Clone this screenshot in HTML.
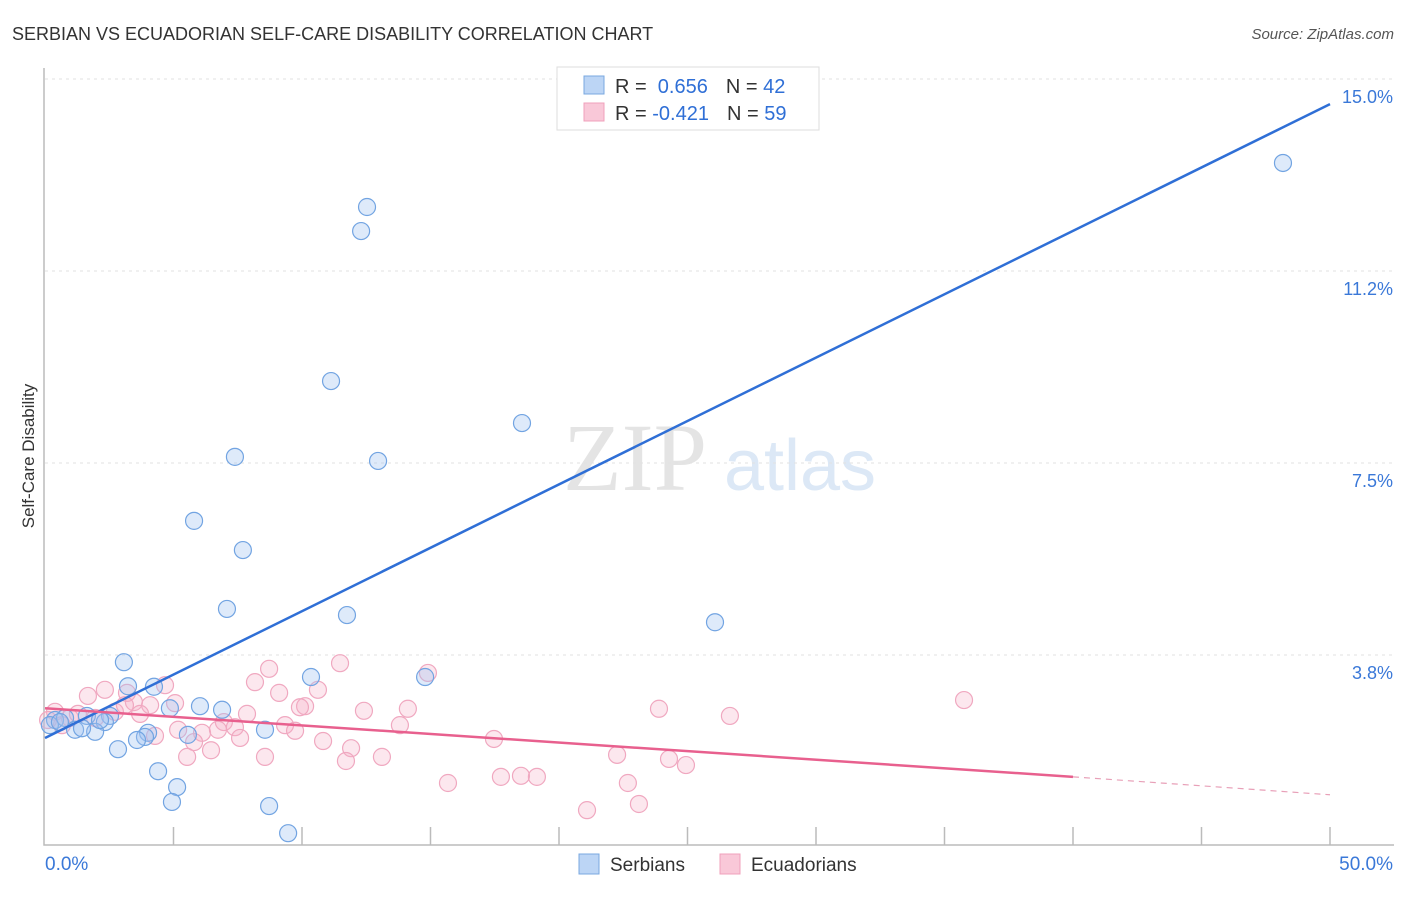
<!DOCTYPE html>
<html><head><meta charset="utf-8"><style>
body{margin:0;background:#fff;font-family:"Liberation Sans",sans-serif}
</style></head><body>
<svg id="chart" width="1406" height="892" xmlns="http://www.w3.org/2000/svg" font-family="Liberation Sans, sans-serif">
<text x="12" y="40" font-size="18" fill="#333">SERBIAN VS ECUADORIAN SELF-CARE DISABILITY CORRELATION CHART</text>
<text x="1394" y="39" font-size="15" fill="#555" font-style="italic" text-anchor="end">Source: ZipAtlas.com</text>
<text transform="translate(34,456) rotate(-90)" font-size="17" fill="#333" text-anchor="middle">Self-Care Disability</text>
<g><text x="635" y="490" font-size="96" fill="#e4e4e4" font-family="Liberation Serif, serif" text-anchor="middle">ZIP</text><text x="800" y="490" font-size="72" fill="#dce8f6" text-anchor="middle">atlas</text></g>
<g id="grid"></g><g id="axes"></g><g id="pts"></g><g id="lines"></g>
<g>
<rect x="557" y="67" width="262" height="63" fill="#fff" stroke="#ddd"/>
<rect x="584" y="76" width="20" height="18" fill="#bcd5f5" stroke="#7aa8e0"/>
<rect x="584" y="103" width="20" height="18" fill="#f9c8d8" stroke="#f0a0bb"/>
<text x="615" y="93" font-size="20" fill="#333">R = <tspan fill="#2f6fd6">&#160;0.656</tspan><tspan dx="18">N = </tspan><tspan fill="#2f6fd6">42</tspan></text>
<text x="615" y="120" font-size="20" fill="#333">R = <tspan fill="#2f6fd6">-0.421</tspan><tspan dx="18">N = </tspan><tspan fill="#2f6fd6">59</tspan></text>
</g>
<g>
<rect x="579" y="854" width="20" height="20" fill="#bcd5f5" stroke="#7aa8e0"/><text x="610" y="871" font-size="19" fill="#333">Serbians</text>
<rect x="720" y="854" width="20" height="20" fill="#f9c8d8" stroke="#f0a0bb"/><text x="751" y="871" font-size="19" fill="#333">Ecuadorians</text>
</g>
</svg>
<script>
const yTicks=[3.75,7.5,11.25,15];
const yTickLabels=["3.8%","7.5%","11.2%","15.0%"];
const xTickVals=[0,5,10,15,20,25,30,35,40,45,50];
const serbX=[48.17,12.53,12.30,11.13,18.56,7.39,12.96,5.80,7.70,7.08,11.75,26.07,3.07,4.24,3.23,10.35,14.79,6.03,6.89,4.86,2.53,1.63,0.39,0.78,2.33,8.56,1.17,1.95,4.01,3.89,5.56,3.58,2.84,4.40,5.14,4.94,8.72,9.46,0.19,0.58,1.44,2.14];
const serbY=[13.36,12.50,12.03,9.10,8.28,7.62,7.54,6.37,5.80,4.65,4.53,4.39,3.61,3.13,3.14,3.32,3.32,2.75,2.68,2.71,2.56,2.56,2.48,2.52,2.44,2.29,2.29,2.25,2.23,2.15,2.19,2.09,1.91,1.48,1.17,0.88,0.80,0.27,2.38,2.44,2.32,2.48];
const ecuX=[35.76,11.48,8.72,14.90,4.67,2.33,1.67,3.19,8.17,9.11,10.62,3.46,4.09,5.06,10.12,9.92,12.41,14.12,23.89,26.65,0.39,0.97,1.28,1.95,2.72,3.70,7.86,6.96,7.39,9.34,9.73,13.81,5.18,6.11,6.73,4.28,5.80,6.46,7.59,10.82,17.47,11.91,5.53,8.56,11.71,13.11,22.26,24.28,24.94,17.74,18.52,19.14,15.68,22.68,21.09,23.11,0.66,0.12,3.11];
const ecuY=[2.87,3.59,3.48,3.40,3.16,3.07,2.95,3.01,3.22,3.01,3.07,2.83,2.77,2.81,2.75,2.73,2.66,2.70,2.70,2.56,2.64,2.52,2.60,2.52,2.64,2.60,2.60,2.44,2.34,2.38,2.27,2.38,2.29,2.23,2.29,2.17,2.05,1.89,2.13,2.07,2.11,1.93,1.76,1.76,1.68,1.76,1.80,1.72,1.60,1.37,1.39,1.37,1.25,1.25,0.72,0.84,2.38,2.48,2.77];
const serbLine=[[0,2.13],[50,14.51]];
const ecuLine=[[0,2.71],[40,1.37]];
const ecuDash=[[40,1.37],[50,1.02]];
const X=v=>45+v*25.7, Y=v=>847-v*51.2;
const NS="http://www.w3.org/2000/svg";
function mk(t,a,p){const e=document.createElementNS(NS,t);for(const k in a)e.setAttribute(k,a[k]);p.appendChild(e);return e;}
const grid=document.getElementById('grid'),axes=document.getElementById('axes'),pts=document.getElementById('pts'),lines=document.getElementById('lines');
yTicks.forEach((t,i)=>{
 const l=mk('line',{x1:45,x2:1394,y1:Y(t),y2:Y(t),stroke:'#e2e2e2','stroke-dasharray':'3,4'},grid);
 
 
 const tx=mk('text',{x:1393,y:Y(t)+24,'font-size':18,fill:'#3a78d8','text-anchor':'end'},axes);
 tx.textContent=yTickLabels[i];
 
 
});
const ax=mk('path',{d:'M44 68 V845 H1394',fill:'none',stroke:'#bbb','stroke-width':1.5},axes);


xTickVals.forEach(v=>{if(v===0)return;
 const t=mk('line',{x1:X(v),x2:X(v),y1:827,y2:845,stroke:'#bbb','stroke-width':1.5},axes);
 
 
});
const xl0=mk('text',{x:45,y:870,'font-size':19,fill:'#3a78d8'},axes);xl0.textContent='0.0%';


const xl1=mk('text',{x:1393,y:870,'font-size':19,fill:'#3a78d8','text-anchor':'end'},axes);xl1.textContent='50.0%';


ecuX.forEach((v,i)=>{
 const c=mk('circle',{cx:X(v),cy:Y(ecuY[i]),r:8.5,fill:'rgba(246,176,200,0.3)',stroke:'#f0a8c0','stroke-width':1.2},pts);
 
 
});
serbX.forEach((v,i)=>{
 const c=mk('circle',{cx:X(v),cy:Y(serbY[i]),r:8.5,fill:'rgba(160,196,240,0.35)',stroke:'#72a4e2','stroke-width':1.2},pts);
 
 
});
const l1=mk('line',{x1:X(serbLine[0][0]),y1:Y(serbLine[0][1]),x2:X(serbLine[1][0]),y2:Y(serbLine[1][1]),stroke:'#2f6fd6','stroke-width':2.5},lines);


const l2=mk('line',{x1:X(ecuLine[0][0]),y1:Y(ecuLine[0][1]),x2:X(ecuLine[1][0]),y2:Y(ecuLine[1][1]),stroke:'#e8608e','stroke-width':2.5},lines);


const l3=mk('line',{x1:X(ecuDash[0][0]),y1:Y(ecuDash[0][1]),x2:X(ecuDash[1][0]),y2:Y(ecuDash[1][1]),stroke:'#e8a0b8','stroke-width':1.2,'stroke-dasharray':'6,5'},lines);


</script>
</body></html>
